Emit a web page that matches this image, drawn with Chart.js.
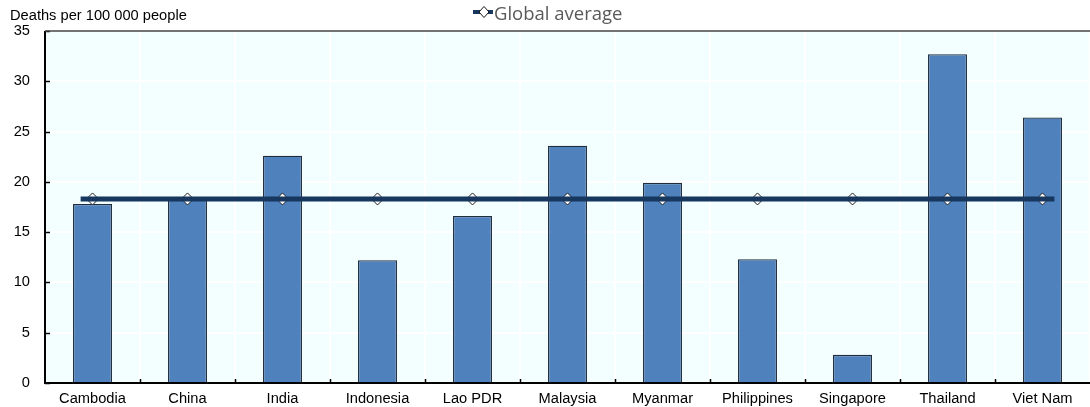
<!DOCTYPE html>
<html>
<head>
<meta charset="utf-8">
<script src="https://cdn.jsdelivr.net/npm/chart.js@4.4.1/dist/chart.umd.min.js"></script>
<style>
  html, body { margin: 0; padding: 0; background: #ffffff; }
  #wrap { position: relative; width: 1090px; height: 407px; }
  #chart { position: absolute; left: 0; top: 0; }
  #ytitle {
    position: absolute; left: 10px; top: 7px;
    font: 14.67px "Liberation Sans", Arial, sans-serif; color: #000;
    white-space: nowrap;
  }
  #legend {
    position: absolute; left: 473px; top: 0px; height: 24px;
    display: flex; align-items: center;
    font: 18.5px "Open Sans", sans-serif; color: #595959; white-space: nowrap;
  }
  #legend svg { margin-right: 1px; }
</style>
</head>
<body>
<div id="wrap">
  <canvas id="chart" width="1090" height="407"></canvas>
  <div id="ytitle">Deaths per 100 000 people</div>
  <div id="legend">
    <svg width="20" height="14" viewBox="0 0 20 14">
      <line x1="0" y1="7" x2="20" y2="7" stroke="#17375e" stroke-width="4"/>
      <path d="M11 1.5 L16 7 L11 12.5 L6 7 Z" fill="#ffffff" stroke="#1a1a1a" stroke-width="1"/>
    </svg>
    <span>Global average</span>
  </div>
</div>
<script>
// Road traffic deaths per 100 000 people
const countries = ['Cambodia', 'China', 'India', 'Indonesia', 'Lao PDR', 'Malaysia',
                   'Myanmar', 'Philippines', 'Singapore', 'Thailand', 'Viet Nam'];
const deathRates = [17.8, 18.5, 22.6, 12.2, 16.6, 23.6, 19.9, 12.3, 2.8, 32.7, 26.4];
const globalAverage = [18.3, 18.3, 18.3, 18.3, 18.3, 18.3, 18.3, 18.3, 18.3, 18.3, 18.3];
const yTicks = [0, 5, 10, 15, 20, 25, 30, 35];

const FONT = { family: '"Liberation Sans", Arial, sans-serif', size: 14.67 };

// Pale plot background, top frame line and inward tick marks
const framePlugin = {
  id: 'frame',
  beforeDraw(chart) {
    const { ctx, chartArea: a } = chart;
    ctx.save();
    ctx.fillStyle = '#f3fefe';
    ctx.fillRect(a.left, a.top, a.right - a.left, a.bottom - a.top);
    ctx.restore();
  },
  afterDraw(chart) {
    const { ctx, chartArea: a, scales } = chart;
    ctx.save();
    ctx.strokeStyle = '#000';
    ctx.lineWidth = 1.5;
    // y tick marks pointing into the plot
    scales.y.ticks.forEach(t => {
      const y = Math.round(scales.y.getPixelForValue(t.value)) + 0.5;
      ctx.beginPath(); ctx.moveTo(a.left, y); ctx.lineTo(a.left + 5, y); ctx.stroke();
    });
    // x tick marks on category boundaries
    const xs = scales.x;
    const step = (xs.getPixelForValue(1) - xs.getPixelForValue(0));
    for (let i = 1; i < countries.length; i++) {
      const x = Math.round(xs.getPixelForValue(i) - step / 2) + 0.5;
      ctx.beginPath(); ctx.moveTo(x, a.bottom); ctx.lineTo(x, a.bottom - 4); ctx.stroke();
    }
    // axes
    ctx.lineWidth = 2;
    ctx.beginPath();
    ctx.moveTo(a.left, a.top); ctx.lineTo(a.left, a.bottom); ctx.lineTo(a.right, a.bottom);
    ctx.stroke();
    ctx.strokeStyle = '#444';
    ctx.lineWidth = 1.5;
    ctx.beginPath(); ctx.moveTo(a.left, a.top); ctx.lineTo(a.right, a.top); ctx.stroke();
    ctx.restore();
  }
};

// Thick average line laid over the diamond markers, running a little past the end categories
const avgLinePlugin = {
  id: 'avgLine',
  afterDatasetsDraw(chart) {
    const { ctx, scales } = chart;
    const xs = scales.x, ys = scales.y;
    const step = xs.getPixelForValue(1) - xs.getPixelForValue(0);
    ctx.save();
    ctx.strokeStyle = '#17375e';
    ctx.lineWidth = 5;
    ctx.lineCap = 'butt';
    ctx.beginPath();
    globalAverage.forEach((v, i) => {
      let x = xs.getPixelForValue(i);
      if (i === 0) x -= step * 0.125;
      if (i === globalAverage.length - 1) x += step * 0.125;
      const y = ys.getPixelForValue(v);
      if (i === 0) ctx.moveTo(x, y); else ctx.lineTo(x, y);
    });
    ctx.stroke();
    ctx.restore();
  }
};

new Chart(document.getElementById('chart'), {
  data: {
    labels: countries,
    datasets: [
      {
        type: 'line',
        label: 'Global average',
        data: globalAverage,
        showLine: false,
        pointStyle: 'rectRot',
        pointRadius: 6,
        pointBackgroundColor: '#ffffff',
        pointBorderColor: '#1a1a1a',
        pointBorderWidth: 1,
        order: 0
      },
      {
        type: 'bar',
        label: 'Deaths',
        data: deathRates,
        backgroundColor: '#4f81bd',
        borderColor: '#1f2d3d',
        borderWidth: 1.3,
        barPercentage: 0.41,
        categoryPercentage: 1,
        order: 1
      }
    ]
  },
  options: {
    responsive: false,
    animation: false,
    layout: { autoPadding: false, padding: { top: 31, right: 0, left: 0, bottom: 0 } },
    plugins: { legend: { display: false }, tooltip: { enabled: false } },
    scales: {
      x: {
        offset: true,
        grid: { offset: true, color: '#ffffff', lineWidth: 2, drawTicks: false },
        border: { display: false },
        ticks: { color: '#000', font: FONT, padding: 7, maxRotation: 0, autoSkip: false },
        afterFit(s) { s.height = 24; s.paddingLeft = 0; s.paddingRight = 0; }
      },
      y: {
        min: 0, max: 35,
        afterBuildTicks(s) { s.ticks = yTicks.map(v => ({ value: v })); },
        grid: { color: '#ffffff', lineWidth: 2, drawTicks: false },
        border: { display: false },
        ticks: { color: '#000', font: FONT, padding: 15 },
        afterFit(s) { s.width = 45; s.paddingTop = 0; s.paddingBottom = 0; }
      }
    }
  },
  plugins: [framePlugin, avgLinePlugin]
});
</script>
</body>
</html>
